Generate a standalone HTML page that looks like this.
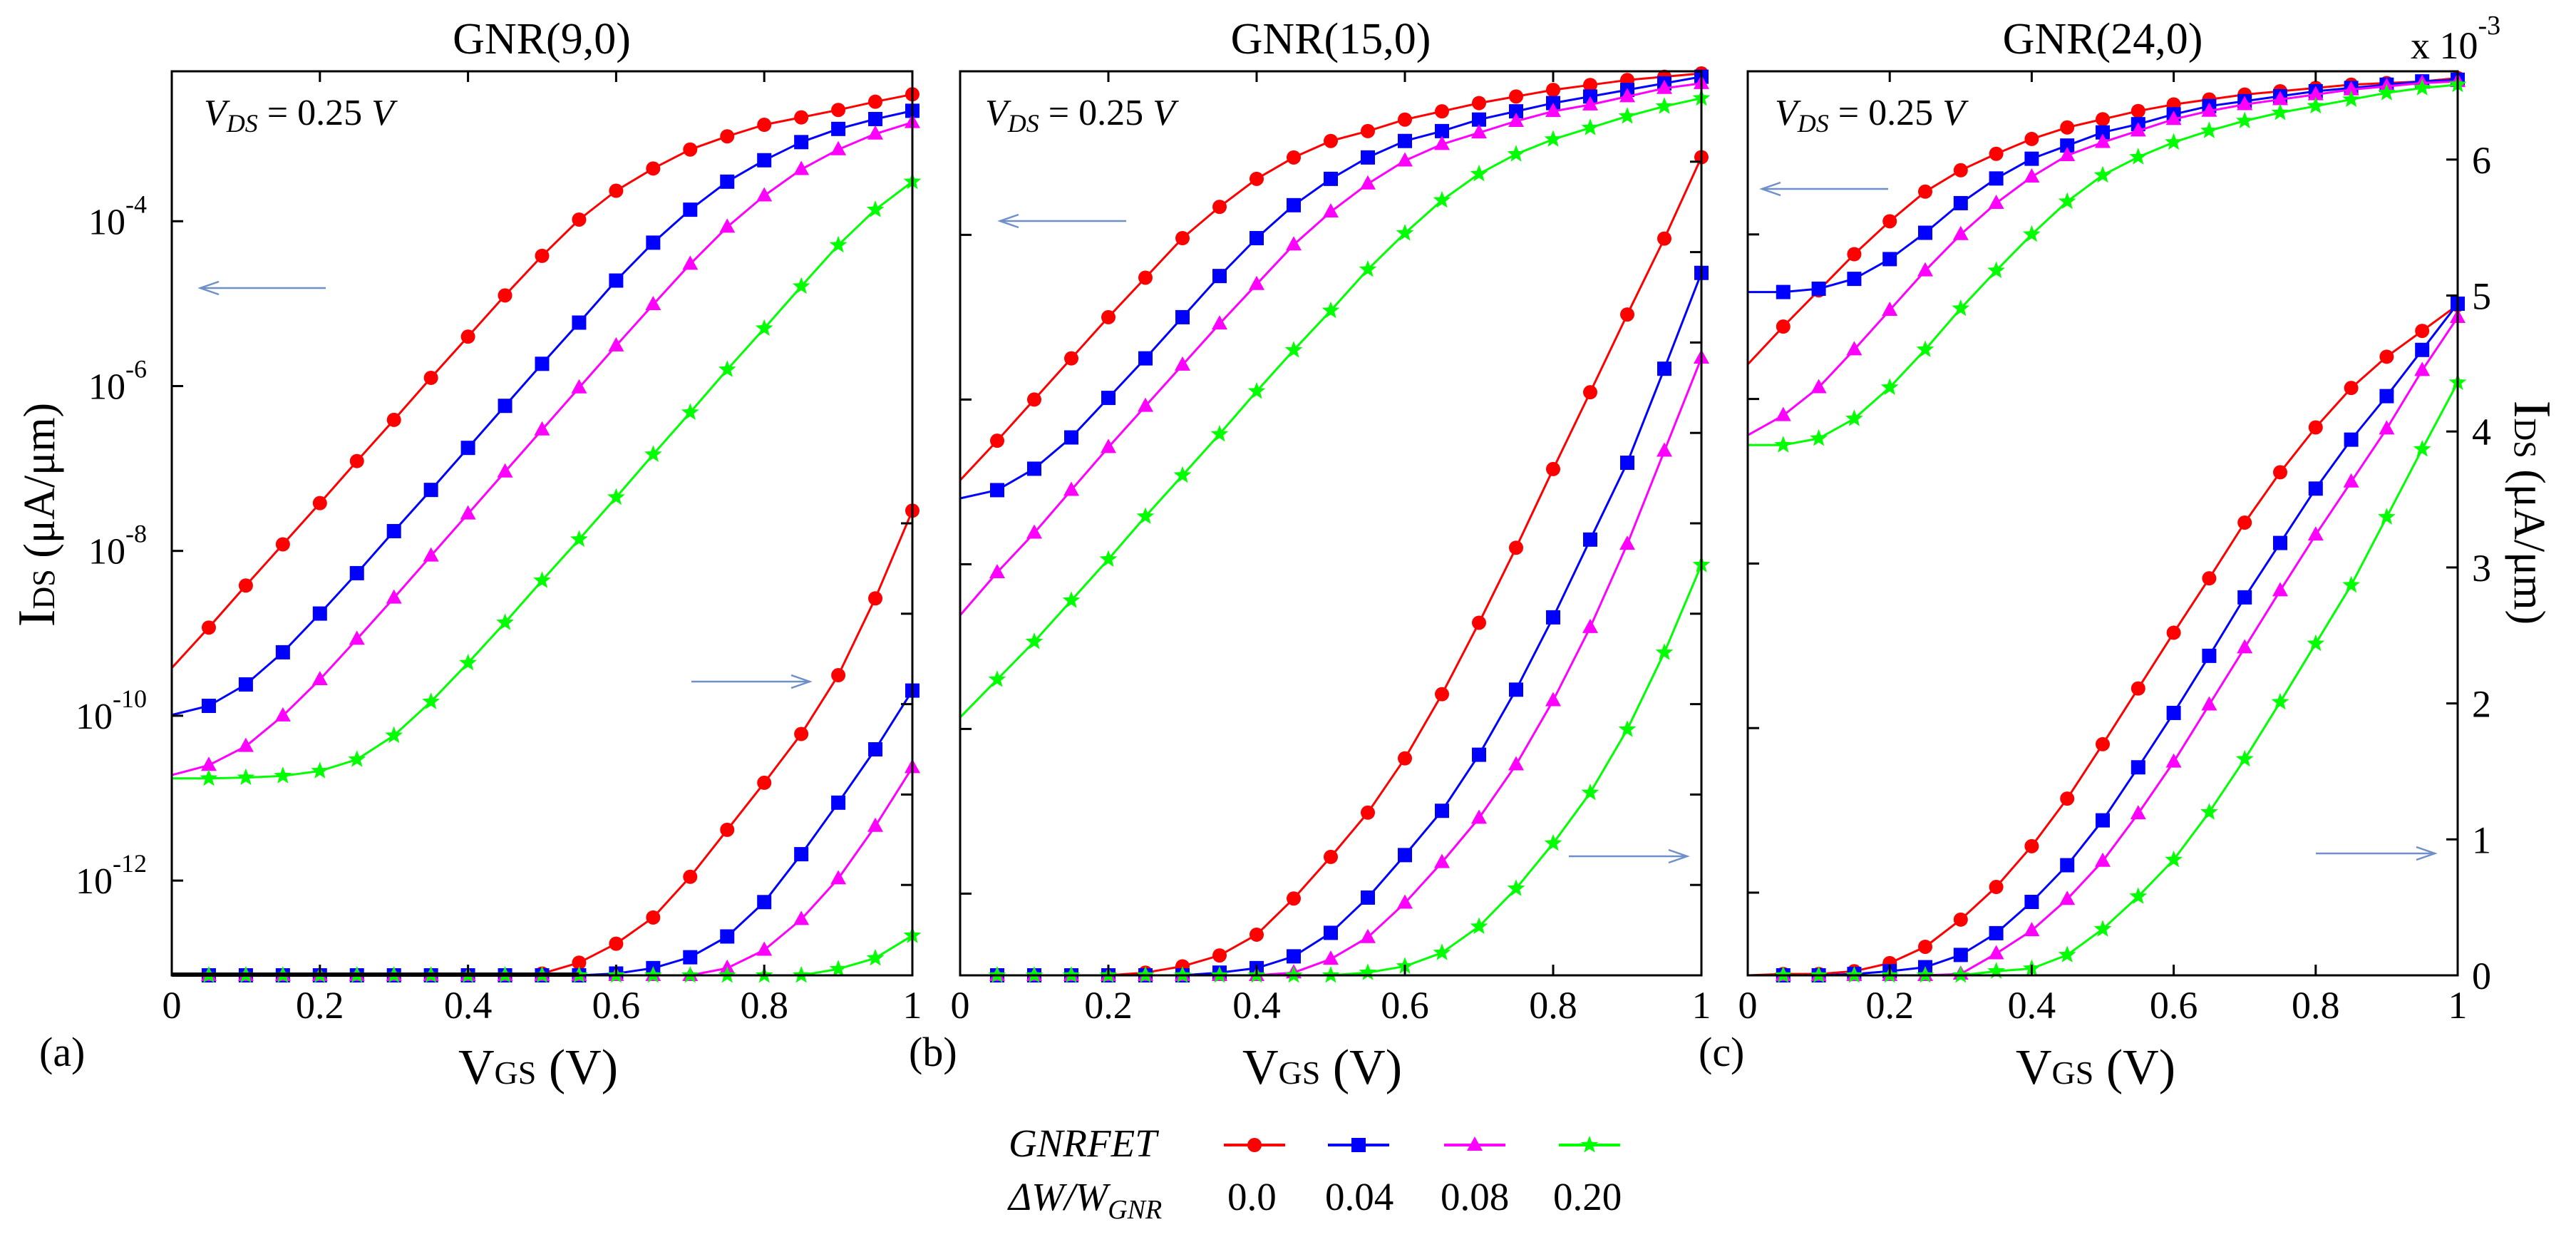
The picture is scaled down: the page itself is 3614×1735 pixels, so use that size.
<!DOCTYPE html>
<html>
<head>
<meta charset="utf-8">
<style>
  html,body{margin:0;padding:0;background:#fff;}
  svg{display:block;}
  svg text{font-family:"Liberation Serif","DejaVu Serif",serif;fill:#000;}
</style>
</head>
<body>
<svg id="fig" xmlns="http://www.w3.org/2000/svg" width="3614" height="1735" viewBox="0 0 3614 1735" font-family="'Liberation Serif', 'DejaVu Serif', serif">
  <rect x="0" y="0" width="3614" height="1735" fill="#fff"/>
</svg>
<script>
// ---------- DATA ----------
const vgs = [0,0.05,0.1,0.15,0.2,0.25,0.3,0.35,0.4,0.45,0.5,0.55,0.6,0.65,0.7,0.75,0.8,0.85,0.9,0.95,1.0];
const xTicks = [0,0.2,0.4,0.6,0.8,1];
const xTickLabels = ["0","0.2","0.4","0.6","0.8","1"];
const seriesNames = ["0.0","0.04","0.08","0.20"];
const panelTitles = ["GNR(9,0)","GNR(15,0)","GNR(24,0)"];
const logTickExpA = [-4,-6,-8,-10,-12];
const logTickLabelsA = ["-4","-6","-8","-10","-12"];
const logTickExpBC = [-4,-5,-6,-7,-8];
const linTicksA = [1,2,3,4,5];
const linTicksB = [1,2,3,4,5,6,7,8,9];
const linTicksC = [0,1,2,3,4,5,6];
const linTickLabelsC = ["0","1","2","3","4","5","6"];

// Panel (a) GNR(9,0): log10(I_DS)
const aLogRed   = [-9.42,-8.93,-8.42,-7.92,-7.42,-6.91,-6.41,-5.90,-5.40,-4.90,-4.42,-3.98,-3.63,-3.36,-3.13,-2.97,-2.83,-2.74,-2.65,-2.55,-2.46];
const aLogBlue  = [-9.99,-9.88,-9.62,-9.23,-8.76,-8.27,-7.76,-7.26,-6.75,-6.24,-5.73,-5.23,-4.72,-4.26,-3.86,-3.52,-3.26,-3.04,-2.88,-2.76,-2.66];
const aLogMag   = [-10.72,-10.60,-10.37,-10.00,-9.56,-9.07,-8.57,-8.06,-7.55,-7.04,-6.53,-6.02,-5.51,-5.01,-4.52,-4.07,-3.69,-3.37,-3.13,-2.94,-2.80];
const aLogGreen = [-10.76,-10.76,-10.75,-10.73,-10.67,-10.53,-10.24,-9.83,-9.36,-8.87,-8.36,-7.86,-7.35,-6.83,-6.32,-5.80,-5.30,-4.79,-4.29,-3.86,-3.52];
// Panel (a) linear (right axis units)
const aLinRed   = [0,0,0,0,0,0,0,0,0,0,0.02,0.14,0.35,0.64,1.09,1.61,2.13,2.67,3.32,4.17,5.14];
const aLinBlue  = [0,0,0,0,0,0,0,0,0,0,0,0,0.02,0.08,0.20,0.43,0.81,1.34,1.91,2.50,3.15];
const aLinMag   = [0,0,0,0,0,0,0,0,0,0,0,0,0,0,0,0.08,0.28,0.62,1.07,1.65,2.30];
const aLinGreen = [0,0,0,0,0,0,0,0,0,0,0,0,0,0,0,0,0,0,0.07,0.19,0.44];

// Panel (b) GNR(15,0)
const bLogRed   = [-5.49,-5.25,-5.00,-4.75,-4.50,-4.26,-4.02,-3.83,-3.66,-3.53,-3.43,-3.37,-3.30,-3.25,-3.20,-3.16,-3.12,-3.09,-3.06,-3.04,-3.02];
const bLogBlue  = [-5.60,-5.55,-5.42,-5.23,-4.99,-4.75,-4.50,-4.25,-4.02,-3.82,-3.66,-3.53,-3.43,-3.37,-3.30,-3.25,-3.20,-3.16,-3.12,-3.08,-3.04];
const bLogMag   = [-6.31,-6.05,-5.81,-5.55,-5.29,-5.04,-4.79,-4.54,-4.30,-4.06,-3.86,-3.69,-3.55,-3.45,-3.38,-3.31,-3.25,-3.21,-3.16,-3.11,-3.08];
const bLogGreen = [-6.93,-6.70,-6.47,-6.22,-5.97,-5.71,-5.46,-5.21,-4.95,-4.70,-4.46,-4.21,-3.99,-3.79,-3.63,-3.51,-3.42,-3.35,-3.28,-3.22,-3.17];
const bLinRed   = [0,0,0,0,0,0.03,0.10,0.22,0.45,0.85,1.31,1.80,2.40,3.11,3.90,4.73,5.60,6.45,7.31,8.15,9.05];
const bLinBlue  = [0,0,0,0,0,0,0,0.03,0.08,0.21,0.47,0.86,1.33,1.82,2.44,3.16,3.96,4.82,5.67,6.71,7.77];
const bLinMag   = [0,0,0,0,0,0,0,0,0,0.03,0.18,0.42,0.80,1.25,1.74,2.33,3.04,3.85,4.77,5.80,6.83];
const bLinGreen = [0,0,0,0,0,0,0,0,0,0,0,0.03,0.10,0.25,0.54,0.96,1.46,2.02,2.72,3.57,4.54];

// Panel (c) GNR(24,0)
const cLogRed   = [-4.79,-4.56,-4.34,-4.12,-3.92,-3.74,-3.61,-3.51,-3.42,-3.35,-3.30,-3.25,-3.21,-3.18,-3.15,-3.13,-3.11,-3.09,-3.08,-3.07,-3.05];
const cLogBlue  = [-4.35,-4.35,-4.33,-4.27,-4.15,-3.99,-3.81,-3.66,-3.54,-3.46,-3.38,-3.33,-3.27,-3.22,-3.19,-3.16,-3.13,-3.11,-3.09,-3.07,-3.06];
const cLogMag   = [-5.22,-5.10,-4.93,-4.70,-4.46,-4.22,-4.00,-3.81,-3.65,-3.52,-3.44,-3.37,-3.30,-3.25,-3.21,-3.18,-3.15,-3.12,-3.10,-3.08,-3.07];
const cLogGreen = [-5.28,-5.28,-5.24,-5.12,-4.93,-4.70,-4.45,-4.22,-4.00,-3.80,-3.64,-3.53,-3.44,-3.37,-3.31,-3.26,-3.22,-3.18,-3.14,-3.11,-3.09];
// linear, units of 1e-3 uA/um
const cLinRed   = [0,0.01,0.01,0.03,0.09,0.21,0.41,0.65,0.95,1.30,1.70,2.11,2.52,2.92,3.33,3.70,4.03,4.32,4.55,4.74,4.93];
const cLinBlue  = [0,0,0,0.01,0.03,0.06,0.15,0.31,0.54,0.81,1.14,1.53,1.93,2.35,2.78,3.18,3.58,3.94,4.26,4.60,4.94];
const cLinMag   = [0,0,0,0,0,0,0.01,0.16,0.33,0.56,0.84,1.19,1.57,1.99,2.41,2.83,3.24,3.63,4.02,4.45,4.84];
const cLinGreen = [0,0,0,0,0,0,0,0.03,0.05,0.15,0.34,0.58,0.85,1.20,1.59,2.01,2.44,2.87,3.37,3.87,4.36];

// ---------- STYLE / GEOMETRY ----------
const COLORS = ["#ff0000","#0000ff","#ff00ff","#00ff00"];
const MARKERS = ["circle","square","triangle","star"];
const SER = ["red","blue","magenta","green"];
const TOP = 100, BOT = 1368;
const panels = [
  {id:"a", x0:241, x1:1280, logRef:310.3, logPer:115.6, linPer:126.8,
   log:[aLogRed,aLogBlue,aLogMag,aLogGreen], lin:[aLinRed,aLinBlue,aLinMag,aLinGreen],
   label:"(a)", labelX:55, titleX:760, xlabX:755,
   arrowL:[281,457,404], arrowR:[970,1136,956], vdsX:286},
  {id:"b", x0:1347, x1:2387, logRef:329.4, logPer:231, linPer:126.8,
   log:[bLogRed,bLogBlue,bLogMag,bLogGreen], lin:[bLinRed,bLinBlue,bLinMag,bLinGreen],
   label:"(b)", labelX:1275, titleX:1867, xlabX:1855,
   arrowL:[1403,1580,310], arrowR:[2201,2367,1201], vdsX:1382},
  {id:"c", x0:2452, x1:3448, logRef:328.8, logPer:230.8, linPer:190.7,
   log:[cLogRed,cLogBlue,cLogMag,cLogGreen], lin:[cLinRed,cLinBlue,cLinMag,cLinGreen],
   label:"(c)", labelX:2383, titleX:2950, xlabX:2940,
   arrowL:[2472,2649,265], arrowR:[3249,3416,1197], vdsX:2490}
];

const NS = "http://www.w3.org/2000/svg";
const svg = document.getElementById("fig");
const FONT = "'Liberation Serif', 'DejaVu Serif', serif";
function mk(tag, attrs, parent){
  const e = document.createElementNS(NS, tag);
  for (const k in attrs) e.setAttribute(k, attrs[k]);
  if (tag==="text") e.setAttribute("font-family", FONT);
  (parent||svg).appendChild(e);
  return e;
}
function xScale(p, v){ return p.x0 + v*(p.x1-p.x0); }
function yLog(p, L){ return p.logRef + (-4 - L)*p.logPer; }
function yLin(p, v){ return BOT - v*p.linPer; }

function drawMarker(g, type, cx, cy, color){
  let e;
  if (type==="circle") e = mk("circle",{cx:cx,cy:cy,r:10,fill:color},g);
  else if (type==="square") e = mk("rect",{x:cx-10,y:cy-10,width:20,height:20,fill:color},g);
  else if (type==="triangle") e = mk("polygon",{points:`${cx},${cy-12} ${cx+11},${cy+8} ${cx-11},${cy+8}`,fill:color},g);
  else {
    let pts=[];
    for(let i=0;i<10;i++){const r=i%2?5.5:13;const a=-Math.PI/2+i*Math.PI/5;pts.push((cx+r*Math.cos(a)).toFixed(1)+","+(cy+r*Math.sin(a)).toFixed(1));}
    e = mk("polygon",{points:pts.join(" "),fill:color},g);
  }
  return e;
}

function arrow(g, xa, xb, y, dir){
  const ln = mk("line",{x1:xa,y1:y,x2:xb,y2:y,stroke:"#6f8fc8","stroke-width":2.5},g);
  const tip = dir<0 ? xa : xb;
  const s = dir<0 ? 1 : -1;
  mk("polyline",{points:`${tip+s*26},${y-9} ${tip},${y} ${tip+s*26},${y+9}`,fill:"none",stroke:"#6f8fc8","stroke-width":2.5},g);
  return ln;
}

panels.forEach((p,pi)=>{
  const g = mk("g",{});
  
  

  const t = mk("text",{x:p.titleX,y:75,"font-size":62,"text-anchor":"middle"},g);
  t.textContent = panelTitles[pi];
  
  

  for (let s=0;s<4;s++){
    ["log","lin"].forEach(kind=>{
      const arr = p[kind][s];
      const yf = kind==="log" ? (v)=>yLog(p,v) : (v)=>yLin(p,v);
      const sg = mk("g",{},g);
      
      
      const pts = vgs.map((v,i)=>xScale(p,v).toFixed(1)+","+yf(arr[i]).toFixed(1)).join(" ");
      const pl = mk("polyline",{points:pts,fill:"none",stroke:COLORS[s],"stroke-width":3,"stroke-linejoin":"round"},sg);
      
      
      for (let i=1;i<vgs.length;i++){
        const m = drawMarker(sg, MARKERS[s], xScale(p,vgs[i]), yf(arr[i]), COLORS[s]);
        
        
      }
    });
  }

  const fr = mk("rect",{x:p.x0,y:TOP,width:p.x1-p.x0,height:BOT-TOP,fill:"none",stroke:"#000","stroke-width":3},g);
  
  
  if (p.id==="a"){
    const bl = mk("line",{x1:p.x0,y1:BOT-1,x2:p.x0+0.55*(p.x1-p.x0),y2:BOT-1,stroke:"#000","stroke-width":6},g);
    
    
  }

  xTicks.forEach((v,i)=>{
    const x = xScale(p,v);
    if (v>0 && v<1){
      const tk = mk("path",{d:`M${x},${BOT} v-15 M${x},${TOP} v15`,stroke:"#000","stroke-width":3},g);
      
      
    }
    const lb = mk("text",{x:x,y:1428,"font-size":54,"text-anchor":"middle"},g);
    lb.textContent = xTickLabels[i];
    
    
  });

  const xl = mk("text",{x:p.xlabX,y:1520,"font-size":70,"text-anchor":"middle"},g);
  xl.innerHTML = 'V<tspan font-size="46">GS</tspan> (V)';
  
  

  const pl = mk("text",{x:p.labelX,y:1495,"font-size":58},g);
  pl.textContent = p.label;
  
  

  const vd = mk("text",{x:p.vdsX,y:175,"font-size":52},g);
  vd.innerHTML = '<tspan font-style="italic">V</tspan><tspan font-style="italic" font-size="36" dy="10">DS</tspan><tspan dy="-10"> = 0.25 </tspan><tspan font-style="italic">V</tspan>';
  
  

  const al = arrow(g, p.arrowL[0], p.arrowL[1], p.arrowL[2], -1);
  
  
  const ar = arrow(g, p.arrowR[0], p.arrowR[1], p.arrowR[2], 1);
  
  

  const lexp = p.id==="a" ? logTickExpA : logTickExpBC;
  lexp.forEach((e,i)=>{
    const y = yLog(p,e);
    const tk = mk("line",{x1:p.x0,y1:y,x2:p.x0+16,y2:y,stroke:"#000","stroke-width":3},g);
    
    
    if (p.id==="a"){
      const lb = mk("text",{x:206,y:y+18,"font-size":52,"text-anchor":"end"},g);
      lb.innerHTML = '10<tspan font-size="36" dy="-30">'+logTickLabelsA[i]+'</tspan>';
      
      
    }
  });

  const rt = p.id==="a" ? linTicksA : (p.id==="b" ? linTicksB : linTicksC);
  rt.forEach((v,i)=>{
    const y = yLin(p,v);
    if (v>0){
      const tk = mk("line",{x1:p.x1,y1:y,x2:p.x1-16,y2:y,stroke:"#000","stroke-width":3},g);
      
      
    }
    if (p.id==="c"){
      const lb = mk("text",{x:p.x1+20,y:y+19,"font-size":54},g);
      lb.textContent = linTickLabelsC[i];
      
      
    }
  });
});

const yl = mk("text",{x:0,y:0,"font-size":62,"text-anchor":"middle",transform:"translate(76,722) rotate(-90)"});
yl.innerHTML = '<tspan font-size="74">I</tspan><tspan font-size="44">DS</tspan> (μA/μm)';



const yr = mk("text",{x:0,y:0,"font-size":62,"text-anchor":"middle",transform:"translate(3528,719) rotate(90)"});
yr.innerHTML = '<tspan font-size="74">I</tspan><tspan font-size="44">DS</tspan> (μA/μm)';



const mult = mk("text",{x:3382,y:82,"font-size":54});
mult.innerHTML = 'x 10<tspan font-size="38" dy="-34">-3</tspan>';



const lg = mk("g",{});


const lt1 = mk("text",{x:1415,y:1622,"font-size":55,"font-style":"italic"},lg);
lt1.textContent = "GNRFET";


const lt2 = mk("text",{x:1415,y:1697,"font-size":55,"font-style":"italic"},lg);
lt2.innerHTML = 'ΔW/W<tspan font-size="38" dy="12">GNR</tspan>';


const legX = [1717,1863,2026,2187];
const legTx = [1722,1859,2021,2179];
for (let s=0;s<4;s++){
  const eg = mk("g",{},lg);
  
  
  mk("line",{x1:legX[s],y1:1606,x2:legX[s]+86,y2:1606,stroke:COLORS[s],"stroke-width":4},eg);
  drawMarker(eg, MARKERS[s], legX[s]+43, 1606, COLORS[s]);
  const tx = mk("text",{x:legTx[s],y:1697,"font-size":55},eg);
  tx.textContent = seriesNames[s];
  
  
}
</script>
</body>
</html>
